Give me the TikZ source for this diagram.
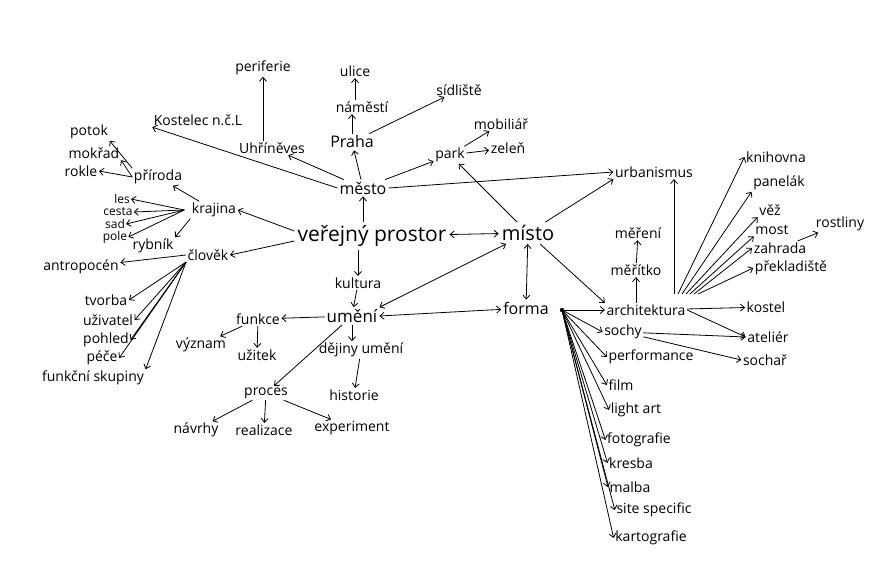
\documentclass[tikz,border=0pt]{standalone}
\usepackage{fontspec}
\setmainfont{Open Sans}
\usetikzlibrary{arrows.meta}
\tikzset{
	lblsm/.style={font=\fontsize{12}{13}\selectfont, inner sep=1pt},
	lbl/.style  ={font=\fontsize{14}{16}\selectfont, inner sep=1.5pt},
	mid/.style  ={font=\fontsize{16}{18}\selectfont, inner sep=2pt},
	big/.style  ={font=\fontsize{20}{23}\selectfont, inner sep=3pt},
	arr/.style  ={-{Straight Barb[length=4pt,width=7pt]}, line width=0.8pt},
	darr/.style ={{Straight Barb[length=4pt,width=7pt]}-{Straight Barb[length=4pt,width=7pt]}, line width=0.8pt},
}
\begin{document}
\begin{tikzpicture}[x=1pt, y=-1pt]
	\useasboundingbox (0,0) rectangle (894,580);
	% centre
	\node[big, font=\fontsize{21}{24}\selectfont] (vp) at (372,236) {veřejný prostor};
	\node[big] (misto) at (528,233) {místo};
	\node[mid] (mesto) at (363,188) {město};
	\node[lbl] (kultura) at (358,283) {kultura};
	\node[mid, font=\fontsize{17}{19}\selectfont] (umeni) at (352,316) {umění};
	\node[mid] (forma) at (526,308) {forma};
	% mesto
	\node[mid] (praha) at (352,142) {Praha};
	\node[lbl] (namesti) at (362,107) {náměstí};
	\node[lbl] (ulice) at (355,71) {ulice};
	\node[lbl] (sidliste) at (459,90) {sídliště};
	\node[lbl] (uhrineves) at (272,148) {Uhříněves};
	\node[lbl] (periferie) at (263,68) {periferie};
	\node[lbl] (kostelec) at (198,120) {Kostelec n.č.L};
	\node[lbl] (park) at (450,155) {park};
	\node[lbl] (mobiliar) at (501,124) {mobiliář};
	\node[lbl] (zelen) at (508,148) {zeleň};
	% krajina, clovek
	\node[lbl] (priroda) at (158,177) {příroda};
	\node[lbl] (potok) at (89,132) {potok};
	\node[lbl] (mokrad) at (94,153) {mokřad};
	\node[lbl] (rokle) at (81,171) {rokle};
	\node[lbl] (krajina) at (214,210) {krajina};
	\node[lblsm] (les) at (122,199) {les};
	\node[lblsm] (cesta) at (118,212) {cesta};
	\node[lblsm] (sad) at (115,224) {sad};
	\node[lblsm] (pole) at (115,237) {pole};
	\node[lbl] (rybnik) at (153,246) {rybník};
	\node[lbl] (clovek) at (208,255) {člověk};
	\node[lbl] (antropocen) at (81,267) {antropocén};
	\node[lbl] (tvorba) at (106,300) {tvorba};
	\node[lbl] (uzivatel) at (108,320) {uživatel};
	\node[lbl] (pohled) at (106,340) {pohled};
	\node[lbl] (pece) at (102,358) {péče};
	\node[lbl] (funkcni) at (93,378) {funkční skupiny};
	% umeni
	\node[lbl] (funkce) at (258,319) {funkce};
	\node[lbl] (vyznam) at (201,345) {význam};
	\node[lbl] (uzitek) at (257,355) {užitek};
	\node[lbl] (dejiny) at (361,350) {dějiny umění};
	\node[lbl] (historie) at (354,395) {historie};
	\node[lbl] (proces) at (266,393) {proces};
	\node[lbl] (navrhy) at (196,430) {návrhy};
	\node[lbl] (realizace) at (264,430) {realizace};
	\node[lbl] (experiment) at (352,428) {experiment};
	% misto, forma
	\node[lbl] (urban) at (654,172) {urbanismus};
	\node[lbl] (kniho) at (776,157) {knihovna};
	\node[lbl] (panel) at (779,183) {panelák};
	\node[lbl] (vez) at (770,210) {věž};
	\node[lbl] (most) at (772,230) {most};
	\node[lbl] (rostliny) at (840,224) {rostliny};
	\node[lbl] (zahrada) at (780,248) {zahrada};
	\node[lbl] (prekl) at (791,268) {překladiště};
	\node[lbl] (mereni) at (638,233) {měření};
	\node[lbl] (meritko) at (636,270) {měřítko};
	\node[lbl] (archi) at (646,310) {architektura};
	\node[lbl] (kostel) at (766,307) {kostel};
	\node[lbl] (atelier) at (768,337) {ateliér};
	\node[lbl] (sochar) at (765,360) {sochař};
	\node[lbl] (sochy) at (623,332) {sochy};
	\node[lbl] (perf) at (651,357) {performance};
	\node[lbl] (film) at (621,385) {film};
	\node[lbl] (light) at (636,410) {light art};
	\node[lbl] (foto) at (639,440) {fotografie};
	\node[lbl] (kresba) at (631,463) {kresba};
	\node[lbl] (malba) at (630,487) {malba};
	\node[lbl] (site) at (654,510) {site specific};
	\node[lbl] (karto) at (651,538) {kartografie};
	\coordinate (fdot) at (562,310);
	\coordinate (afan) at (674,294);

	% centre links
	\draw[arr] (vp.north -| mesto) -- (mesto);
	\draw[arr] (vp.south -| kultura) -- (kultura);
	\draw[arr] (kultura) -- (umeni);
	\draw[darr] (vp) -- (misto);
	\draw[darr] (misto) -- (forma);
	\draw[darr] (misto) -- (umeni.north east);
	\draw[darr] (umeni.east) -- (forma);
	\draw[arr] ([yshift=5pt]vp.west) -- (krajina.east);
	\draw[arr] ([yshift=-5pt]vp.west) -- (clovek.east);
	% mesto
	\draw[arr] (mesto) -- (praha);
	\draw[arr] (praha.north) -- (praha.north |- namesti.south);
	\draw[arr] (namesti.north -| ulice) -- (ulice);
	\draw[arr] (praha) -- (sidliste);
	\draw[arr] (mesto) -- (uhrineves);
	\draw[arr] (uhrineves.north -| periferie) -- (periferie);
	\draw[arr] (mesto.west) -- (kostelec.south west);
	\draw[arr] (mesto) -- (park);
	\draw[arr] (park) -- (mobiliar);
	\draw[arr] (park) -- (zelen);
	\draw[arr] (mesto.east) -- (urban.west);
	% krajina, clovek
	\draw[arr] (krajina) -- (priroda);
	\draw[arr] (priroda.north west) -- (potok.south east);
	\draw[arr] (priroda.west) -- (mokrad.south east);
	\draw[arr] (priroda.west) -- (rokle.east);
	\foreach \t in {les, cesta, sad, pole}
		\draw[arr] ([xshift=-6pt]krajina.west) -- (\t.east);
	\draw[arr] (krajina.south west) -- (rybnik.north east);
	\draw[arr] (clovek.west) -- (antropocen);
	\foreach \t in {tvorba, uzivatel, pohled, pece}
		\draw[arr] (clovek.south west) -- (\t.east);
	\draw[arr] (clovek.south west) -- (funkcni.north east);
	% umeni
	\draw[arr] (umeni) -- (funkce);
	\draw[arr] (funkce) -- (vyznam);
	\draw[arr] (funkce) -- (uzitek);
	\draw[arr] (umeni) -- (umeni |- dejiny.north);
	\draw[arr] (dejiny) -- (historie);
	\draw[arr] (umeni) -- (proces);
	\foreach \t in {navrhy, realizace, experiment}
		\draw[arr] (proces) -- (\t);
	% misto, forma
	\draw[arr] (misto) -- (park);
	\draw[arr] (misto) -- (urban.south west);
	\draw[arr] (misto) -- (archi.north west);
	\fill (fdot) circle (2.2pt);
	\foreach \t in {archi, sochy, perf, film, light, foto, kresba, malba, site, karto}
		\draw[arr] (fdot) -- (\t.west);
	\draw[arr] (afan) -- (afan |- urban.south);
	\draw[arr] ([xshift=4pt]afan) -- (kniho.west);
	\foreach \t/\s in {panel/8, vez/12, most/16}
		\draw[arr] ([xshift=\s pt]afan) -- (\t.south west);
	\draw[arr] ([xshift=20pt]afan) -- (zahrada.west);
	\draw[arr] ([xshift=24pt]afan) -- (prekl.west);
	\draw[arr] (archi.north -| meritko) -- (meritko);
	\draw[arr] (meritko) -- (mereni);
	\draw[arr] (zahrada) -- (rostliny);
	\draw[arr] (archi) -- (kostel);
	\draw[arr] (archi.east) -- (atelier.west);
	\draw[arr] (sochy) -- (atelier.west);
	\draw[arr] (sochy) -- (sochar.west);
\end{tikzpicture}
\end{document}
